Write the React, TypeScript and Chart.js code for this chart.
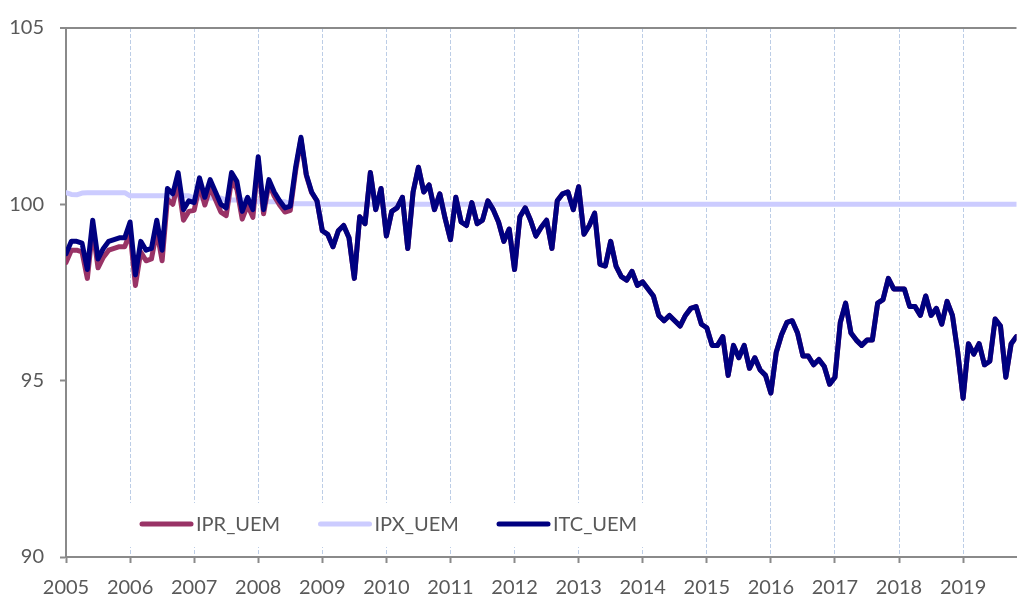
import React, { useEffect, useRef } from "react";
import { Chart, registerables } from "chart.js";

Chart.register(...registerables);

// ---------- data (monthly, Jan 2005 .. Nov 2019) ----------
const yearLabels = [
  "2005", "2006", "2007", "2008", "2009", "2010", "2011", "2012",
  "2013", "2014", "2015", "2016", "2017", "2018", "2019",
];

const yTickValues = [90, 95, 100, 105];

const seriesNames = ["IPR_UEM", "IPX_UEM", "ITC_UEM"];

const itcUem = [
  // 2005
  98.6, 98.95, 98.95, 98.9, 98.15, 99.55, 98.45, 98.75, 98.95, 99.0, 99.05, 99.05,
  // 2006
  99.5, 98.0, 98.95, 98.7, 98.75, 99.55, 98.7, 100.45, 100.3, 100.9, 99.85, 100.1,
  // 2007
  100.05, 100.75, 100.2, 100.7, 100.35, 100.0, 99.9, 100.9, 100.65, 99.8, 100.2, 99.85,
  // 2008
  101.35, 99.85, 100.7, 100.35, 100.1, 99.9, 99.95, 101.05, 101.9, 100.85, 100.35, 100.1,
  // 2009
  99.25, 99.15, 98.8, 99.25, 99.4, 99.05, 97.9, 99.65, 99.45, 100.9, 99.85, 100.45,
  // 2010
  99.1, 99.8, 99.9, 100.2, 98.75, 100.35, 101.05, 100.35, 100.55, 99.85, 100.3, 99.6,
  // 2011
  99.0, 100.2, 99.5, 99.4, 100.05, 99.45, 99.55, 100.1, 99.85, 99.5, 98.95, 99.3,
  // 2012
  98.15, 99.65, 99.9, 99.55, 99.1, 99.35, 99.55, 98.75, 100.1, 100.3, 100.35, 99.85,
  // 2013
  100.5, 99.15, 99.4, 99.75, 98.3, 98.25, 98.95, 98.25, 97.95, 97.85, 98.1, 97.7,
  // 2014
  97.8, 97.6, 97.4, 96.85, 96.7, 96.85, 96.7, 96.55, 96.85, 97.05, 97.1, 96.6,
  // 2015
  96.5, 96.0, 96.0, 96.25, 95.15, 96.0, 95.65, 96.0, 95.35, 95.65, 95.3, 95.15,
  // 2016
  94.65, 95.8, 96.3, 96.65, 96.7, 96.35, 95.7, 95.7, 95.45, 95.6, 95.4, 94.9,
  // 2017
  95.1, 96.65, 97.2, 96.35, 96.15, 96.0, 96.15, 96.15, 97.2, 97.3, 97.9, 97.6,
  // 2018
  97.6, 97.6, 97.1, 97.1, 96.85, 97.4, 96.85, 97.05, 96.6, 97.25, 96.85, 95.8,
  // 2019
  94.5, 96.05, 95.75, 96.05, 95.45, 95.55, 96.75, 96.55, 95.1, 96.05, 96.25,
];

const iprUem = [
  // 2005
  98.35, 98.7, 98.7, 98.65, 97.9, 99.3, 98.2, 98.5, 98.7, 98.75, 98.8, 98.8,
  // 2006
  99.2, 97.7, 98.65, 98.4, 98.45, 99.25, 98.4, 100.15, 100.0, 100.6, 99.55, 99.8,
  // 2007
  99.83, 100.53, 99.98, 100.48, 100.13, 99.78, 99.68, 100.68, 100.43, 99.58, 99.98, 99.63,
  // 2008
  101.23, 99.73, 100.58, 100.23, 99.98, 99.78, 99.83, 100.95, 101.85, 100.82, 100.33, 100.1,
  // 2009
  99.25, 99.15, 98.8, 99.25, 99.4, 99.05, 97.9, 99.65, 99.45, 100.9, 99.85, 100.45,
  // 2010
  99.1, 99.8, 99.9, 100.2, 98.75, 100.35, 101.05, 100.35, 100.55, 99.85, 100.3, 99.6,
  // 2011
  99.0, 100.2, 99.5, 99.4, 100.05, 99.45, 99.55, 100.1, 99.85, 99.5, 98.95, 99.3,
  // 2012
  98.15, 99.65, 99.9, 99.55, 99.1, 99.35, 99.55, 98.75, 100.1, 100.3, 100.35, 99.85,
  // 2013
  100.5, 99.15, 99.4, 99.75, 98.3, 98.25, 98.95, 98.25, 97.95, 97.85, 98.1, 97.7,
  // 2014
  97.8, 97.6, 97.4, 96.85, 96.7, 96.85, 96.7, 96.55, 96.85, 97.05, 97.1, 96.6,
  // 2015
  96.5, 96.0, 96.0, 96.25, 95.15, 96.0, 95.65, 96.0, 95.35, 95.65, 95.3, 95.15,
  // 2016
  94.65, 95.8, 96.3, 96.65, 96.7, 96.35, 95.7, 95.7, 95.45, 95.6, 95.4, 94.9,
  // 2017
  95.1, 96.65, 97.2, 96.35, 96.15, 96.0, 96.15, 96.15, 97.2, 97.3, 97.9, 97.6,
  // 2018
  97.6, 97.6, 97.1, 97.1, 96.85, 97.4, 96.85, 97.05, 96.6, 97.25, 96.85, 95.8,
  // 2019
  94.5, 96.05, 95.75, 96.05, 95.45, 95.55, 96.75, 96.55, 95.1, 96.05, 96.25,
];

const ipxUem = [
  // 2005
  100.33, 100.28, 100.27, 100.32, 100.33, 100.33, 100.33, 100.33, 100.33, 100.33, 100.33, 100.33,
  // 2006
  100.24, 100.24, 100.24, 100.24, 100.24, 100.24, 100.24, 100.24, 100.24, 100.24, 100.24, 100.24,
  // 2007
  100.18, 100.18, 100.18, 100.18, 100.18, 100.18, 100.12, 100.12, 100.12, 100.12, 100.12, 100.12,
  // 2008
  100.07, 100.07, 100.07, 100.07, 100.07, 100.07, 100.02, 100.02, 100.02, 100.02, 100.02, 100.02,
  // 2009
  100.0, 100.0, 100.0, 100.0, 100.0, 100.0, 100.0, 100.0, 100.0, 100.0, 100.0, 100.0,
  // 2010
  100.0, 100.0, 100.0, 100.0, 100.0, 100.0, 100.0, 100.0, 100.0, 100.0, 100.0, 100.0,
  // 2011
  100.0, 100.0, 100.0, 100.0, 100.0, 100.0, 100.0, 100.0, 100.0, 100.0, 100.0, 100.0,
  // 2012
  100.0, 100.0, 100.0, 100.0, 100.0, 100.0, 100.0, 100.0, 100.0, 100.0, 100.0, 100.0,
  // 2013
  100.0, 100.0, 100.0, 100.0, 100.0, 100.0, 100.0, 100.0, 100.0, 100.0, 100.0, 100.0,
  // 2014
  100.0, 100.0, 100.0, 100.0, 100.0, 100.0, 100.0, 100.0, 100.0, 100.0, 100.0, 100.0,
  // 2015
  100.0, 100.0, 100.0, 100.0, 100.0, 100.0, 100.0, 100.0, 100.0, 100.0, 100.0, 100.0,
  // 2016
  100.0, 100.0, 100.0, 100.0, 100.0, 100.0, 100.0, 100.0, 100.0, 100.0, 100.0, 100.0,
  // 2017
  100.0, 100.0, 100.0, 100.0, 100.0, 100.0, 100.0, 100.0, 100.0, 100.0, 100.0, 100.0,
  // 2018
  100.0, 100.0, 100.0, 100.0, 100.0, 100.0, 100.0, 100.0, 100.0, 100.0, 100.0, 100.0,
  // 2019
  100.0, 100.0, 100.0, 100.0, 100.0, 100.0, 100.0, 100.0, 100.0, 100.0, 100.0,
];

// ---------- styles ----------
const SERIES_COLORS = ["#993366", "#CCCCFF", "#000080"];
const AXIS_GREY = "#8A8A8A";
const TEXT_GREY = "#595959";
const GRID_BLUE = "#BCCDE6";
const FONT_FAMILY = "Lato, 'Open Sans', sans-serif";
const FONT_SIZE = 20;
const LINE_WIDTH = 5;

const toPoints = (arr: number[]) => arr.map((y, i) => ({ x: i, y }));

const insideLegend = {
  id: "insideLegend",
  afterDraw(chart: any) {
    const { ctx, chartArea } = chart;
    const boxLeft = chartArea.left + 63;
    const boxTop = chartArea.bottom - 54;
    const boxW = 522;
    const boxH = 44;
    ctx.save();
    ctx.fillStyle = "#ffffff";
    ctx.fillRect(boxLeft, boxTop, boxW, boxH);
    const cy = boxTop + 21;
    ctx.font = `${FONT_SIZE}px ${FONT_FAMILY}`;
    ctx.textBaseline = "middle";
    ctx.textAlign = "left";
    chart.data.datasets.forEach((ds: any, k: number) => {
      const x0 = boxLeft + 13 + k * 178.5;
      ctx.beginPath();
      ctx.lineWidth = LINE_WIDTH;
      ctx.lineCap = "round";
      ctx.strokeStyle = ds.borderColor;
      ctx.moveTo(x0, cy);
      ctx.lineTo(x0 + 49, cy);
      ctx.stroke();
      ctx.fillStyle = TEXT_GREY;
      ctx.fillText(ds.label, x0 + 54, cy + 1);
    });
    ctx.restore();
  },
};

export default function App() {
  const canvasRef = useRef<HTMLCanvasElement | null>(null);

  useEffect(() => {
    document.body.style.margin = "0";
    const canvas = canvasRef.current;
    if (!canvas) return;

    const lastIndex = itcUem.length - 1;

    const chart = new Chart(canvas, {
      type: "line",
      data: {
        datasets: [
          {
            label: seriesNames[0],
            data: toPoints(iprUem),
            borderColor: SERIES_COLORS[0],
            order: 1,
          },
          {
            label: seriesNames[1],
            data: toPoints(ipxUem),
            borderColor: SERIES_COLORS[1],
            order: 2,
          },
          {
            label: seriesNames[2],
            data: toPoints(itcUem),
            borderColor: SERIES_COLORS[2],
            order: 0,
          },
        ].map((d) => ({
          ...d,
          borderWidth: LINE_WIDTH,
          pointRadius: 0,
          pointHoverRadius: 0,
          tension: 0,
          fill: false,
          borderJoinStyle: "round" as const,
          borderCapStyle: "round" as const,
        })),
      },
      options: {
        responsive: false,
        animation: false,
        devicePixelRatio: 1,
        layout: { padding: { top: 21, left: 0, right: 0, bottom: 0 } },
        plugins: {
          legend: { display: false },
          tooltip: { enabled: false },
        },
        scales: {
          x: {
            type: "linear",
            min: 0,
            max: lastIndex,
            afterBuildTicks: (scale: any) => {
              scale.ticks = yearLabels.map((_, k) => ({ value: k * 12 }));
            },
            afterFit: (scale: any) => {
              scale.height = 38;
            },
            ticks: {
              autoSkip: false,
              maxRotation: 0,
              padding: 13,
              color: TEXT_GREY,
              font: { family: FONT_FAMILY, size: FONT_SIZE },
              callback: (v: any) => yearLabels[Math.round(Number(v) / 12)] ?? "",
            },
            grid: {
              color: (c: any) =>
                c.tick && c.tick.value === 0 ? "rgba(0,0,0,0)" : GRID_BLUE,
              lineWidth: 1,
              drawTicks: true,
              tickLength: 6,
              tickWidth: 2,
              tickColor: AXIS_GREY,
            },
            border: { display: true, color: AXIS_GREY, width: 2, dash: [4, 2] },
          },
          y: {
            type: "linear",
            min: yTickValues[0],
            max: yTickValues[yTickValues.length - 1],
            afterBuildTicks: (scale: any) => {
              scale.ticks = yTickValues.map((v) => ({ value: v }));
            },
            afterFit: (scale: any) => {
              scale.width = 66;
            },
            ticks: {
              padding: 16,
              color: TEXT_GREY,
              font: { family: FONT_FAMILY, size: FONT_SIZE },
            },
            grid: {
              color: (c: any) =>
                c.tick && c.tick.value === 105 ? AXIS_GREY : "rgba(0,0,0,0)",
              lineWidth: (c: any) => (c.tick && c.tick.value === 105 ? 2 : 1),
              drawTicks: true,
              tickLength: 6,
              tickWidth: 2,
              tickColor: AXIS_GREY,
            },
            border: { display: true, color: AXIS_GREY, width: 2 },
          },
        },
      },
      plugins: [insideLegend],
    });

    if ((document as any).fonts && (document as any).fonts.ready) {
      (document as any).fonts.ready.then(() => chart.update());
    }

    return () => {
      chart.destroy();
    };
  }, []);

  return (
    <div style={{ position: "absolute", left: 0, top: 0, width: 1019, height: 595, background: "#fff" }}>
      <canvas ref={canvasRef} width={1019} height={595} style={{ display: "block" }} />
    </div>
  );
}
